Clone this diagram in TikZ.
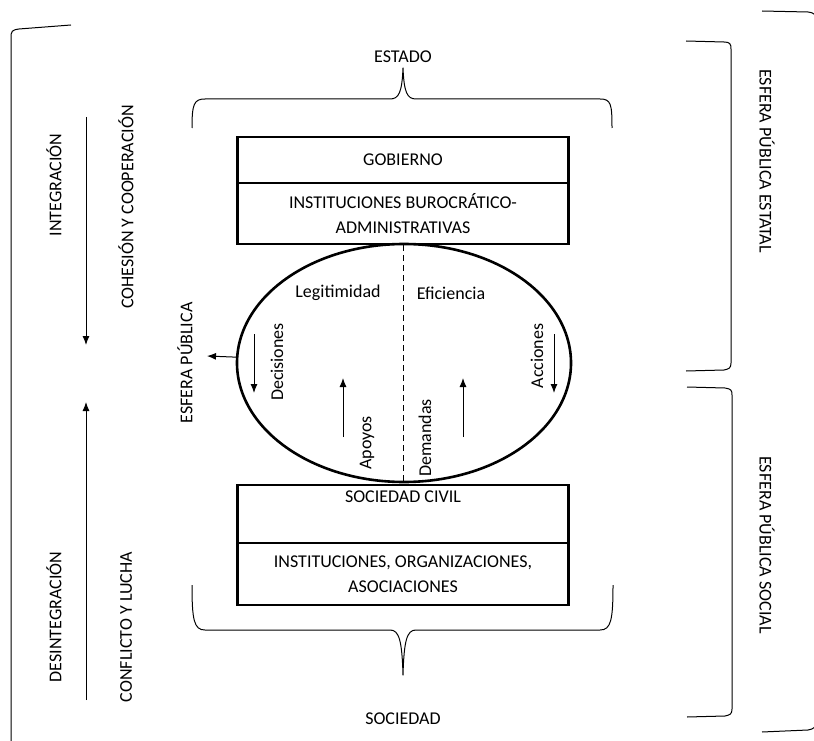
\documentclass[tikz,border=0pt]{standalone}
\usepackage{fontspec}
\setmainfont{Carlito}
\usetikzlibrary{shapes.geometric}
\usetikzlibrary{arrows.meta}

\begin{document}
\begin{tikzpicture}[x=1pt, y=-1pt, font=\fontsize{18}{25}\selectfont]

\def\xc{403}
\def\wbox{331}
\def\lw{2.6pt}

\tikzset{caja/.style = {draw, line width=\lw, minimum width=\wbox, inner sep=0pt, align=center}}
\tikzset{flecha/.style = {line width=1pt, -{Latex[length=9pt, width=7pt]}}}
\tikzset{llave/.style = {line width=1pt, line join=round}}

\useasboundingbox (0,0) rectangle (814,741);

%cajas del estado
\node[caja, minimum height=46] (gobierno) at (\xc,160) {GOBIERNO};
\node[caja, minimum height=61] (burocracia) at (\xc,213.5) {INSTITUCIONES BUROCRÁTICO-\\ADMINISTRATIVAS};

%cajas de la sociedad
\node[caja, text height=17, text depth=41] (civil) at (\xc,514) {SOCIEDAD CIVIL};
\node[caja, minimum height=62] (asociaciones) at (\xc,574) {INSTITUCIONES, ORGANIZACIONES,\\ASOCIACIONES};

%esfera publica
\node[draw, ellipse, line width=\lw, minimum width=334, minimum height=238, inner sep=0pt] (esfera) at (404,363) {};
\draw[line width=1pt, dash pattern=on 6pt off 4pt] (burocracia.south) -- (civil.north);

\node (legitimidad) at (338,293) {Legitimidad};
\node (eficiencia) at (451,293) {Eficiencia};
\node[rotate=90] (decisiones) at (277,362) {Decisiones};
\node[rotate=90] (apoyos) at (367,443) {Apoyos};
\node[rotate=90] (demandas) at (425,438) {Demandas};
\node[rotate=90] (acciones) at (537,356) {Acciones};

\coordinate (decA) at (254,334);
\coordinate (decB) at (254,393);
\coordinate (apoA) at (343,437);
\coordinate (apoB) at (343,378);
\coordinate (demA) at (463,437);
\coordinate (demB) at (463,378);
\coordinate (accA) at (554,334);
\coordinate (accB) at (554,393);
\draw[flecha] (decA) -- (decB);
\draw[flecha] (apoA) -- (apoB);
\draw[flecha] (demA) -- (demB);
\draw[flecha] (accA) -- (accB);

\node[rotate=90] (publica) at (185,363) {ESFERA PÚBLICA};
\coordinate (pubtip) at (207,356);
\draw[flecha] (esfera.178) -- (pubtip);

%llaves de estado y sociedad
\node (estado) at (\xc,57) {ESTADO};
\draw[llave] (192,128) .. controls (192,104) and (194,99) .. (205,99) -- (390,99)
  .. controls (399,99) and (402,92) .. (403,68) .. controls (404,92) and (407,99) .. (416,99)
  -- (600,99) .. controls (611,99) and (612,104) .. (612,128);

\node (sociedad) at (\xc,719) {SOCIEDAD};
\draw[llave] (192,585) .. controls (192,620) and (194,630) .. (205,630) -- (390,630)
  .. controls (399,630) and (402,640) .. (403,675) .. controls (404,640) and (407,630) .. (416,630)
  -- (600,630) .. controls (611,630) and (613,620) .. (613,585);

%lado izquierdo
\draw[llave] (71,25) -- (19,29) .. controls (12,30) and (11,31) .. (11,38) -- (11,760);

\node[rotate=90] (integracion) at (54,185) {INTEGRACIÓN};
\node[rotate=90] (cohesion) at (126,207) {COHESIÓN Y COOPERACIÓN};
\coordinate (intA) at (86,117);
\coordinate (intB) at (86,345);
\draw[flecha] (intA) -- (intB);

\node[rotate=90] (desintegracion) at (54,617) {DESINTEGRACIÓN};
\node[rotate=90] (conflicto) at (126,627) {CONFLICTO Y LUCHA};
\coordinate (desA) at (86,700);
\coordinate (desB) at (86,402);
\draw[flecha] (desA) -- (desB);

%lado derecho
\draw[llave] (686,41) -- (724,42) .. controls (730,42) and (731,44) .. (731,49) -- (731,363)
  .. controls (731,368) and (729,369) .. (724,370) -- (686,371);
\draw[llave] (687,387) -- (725,388) .. controls (731,389) and (732,390) .. (732,395) -- (732,709)
  .. controls (732,714) and (730,715) .. (725,716) -- (687,717);
\draw[llave] (762,11) -- (808,12) .. controls (815,13) and (816,15) .. (816,20) -- (816,722)
  .. controls (816,727) and (814,729) .. (808,730) -- (762,732);

\node[rotate=-90] (estatal) at (767,161) {ESFERA PÚBLICA ESTATAL};
\node[rotate=-90] (social) at (767,545) {ESFERA PÚBLICA SOCIAL};

\end{tikzpicture}
\end{document}
